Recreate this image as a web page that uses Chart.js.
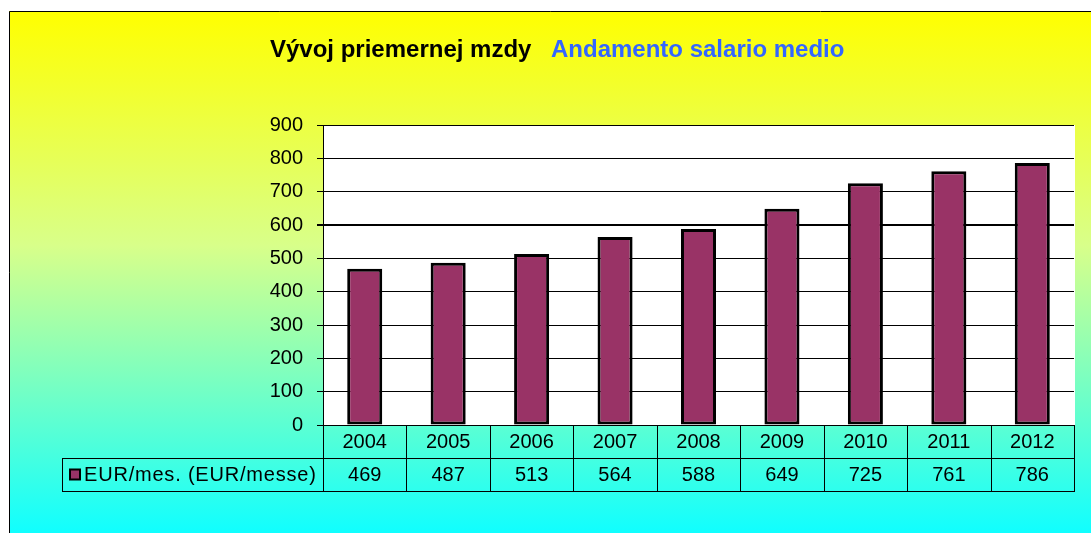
<!DOCTYPE html>
<html>
<head>
<meta charset="utf-8">
<script src="https://cdn.jsdelivr.net/npm/chart.js@4.4.1/dist/chart.umd.min.js"></script>
<style>
    html, body { margin: 0; padding: 0; background: #fff; }
    canvas { display: block; }
</style>
</head>
<body>
<canvas id="wageChart" width="1091" height="533"></canvas>
<script>
// dati del grafico
const years = ['2004', '2005', '2006', '2007', '2008', '2009', '2010', '2011', '2012'];
const wages = [469, 487, 513, 564, 588, 649, 725, 761, 786];
const seriesLabel = 'EUR/mes. (EUR/messe)';
const titleSk = 'Vývoj priemernej mzdy';
const titleIt = 'Andamento salario medio';
const yMin = 0;
const yMax = 900;
const yStep = 100;

const barColor = '#993366';
const fontFamily = '"Liberation Sans", Arial, sans-serif';

// sfondo, cornice e titolo
const backgroundPlugin = {
    id: 'backgroundPlugin',
    beforeDraw(chart) {
        const ctx = chart.ctx;
        const w = chart.width, h = chart.height;
        ctx.save();
        ctx.fillStyle = '#ffffff';
        ctx.fillRect(0, 0, w, h);
        const grad = ctx.createLinearGradient(0, 11, 0, h);
        grad.addColorStop(0, '#ffff00');
        grad.addColorStop(0.45, '#d8ff8a');
        grad.addColorStop(1, '#10ffff');
        ctx.fillStyle = grad;
        ctx.fillRect(9, 11, w - 9, h - 11);
        ctx.strokeStyle = '#000';
        ctx.lineWidth = 1;
        ctx.beginPath();
        ctx.moveTo(9.5, h);
        ctx.lineTo(9.5, 11.5);
        ctx.lineTo(w, 11.5);
        ctx.stroke();

        // area del grafico bianca
        const a = chart.chartArea;
        ctx.fillStyle = '#ffffff';
        ctx.fillRect(a.left, a.top, a.right - a.left + 1, a.bottom - a.top);

        // titolo
        ctx.font = 'bold 24px ' + fontFamily;
        ctx.textBaseline = 'alphabetic';
        ctx.textAlign = 'left';
        ctx.fillStyle = '#000';
        ctx.fillText(titleSk, 270, 57);
        ctx.fillStyle = '#3366ff';
        ctx.fillText(titleIt, 551, 57);
        ctx.restore();
    },
    afterDraw(chart) {
        // tabella dati sotto il grafico
        const ctx = chart.ctx;
        const x = chart.scales.x;
        const a = chart.chartArea;
        const rowH = 33;
        const top = a.bottom;
        const mid = top + rowH;
        const bot = mid + rowH;
        const legendLeft = 62;
        const n = years.length;
        const edges = [];
        for (let i = 0; i <= n; i++) {
            if (i === 0) edges.push(a.left);
            else if (i === n) edges.push(a.right);
            else edges.push((x.getPixelForValue(i - 1) + x.getPixelForValue(i)) / 2);
        }

        ctx.save();
        ctx.strokeStyle = '#000';
        ctx.lineWidth = 1;
        ctx.beginPath();
        // linee orizzontali
        ctx.moveTo(legendLeft, Math.round(mid) + 0.5);
        ctx.lineTo(a.right, Math.round(mid) + 0.5);
        ctx.moveTo(legendLeft, Math.round(bot) + 0.5);
        ctx.lineTo(a.right, Math.round(bot) + 0.5);
        ctx.moveTo(legendLeft + 0.5, Math.round(mid));
        ctx.lineTo(legendLeft + 0.5, Math.round(bot) + 1);
        edges.forEach(e => {
            const ex = Math.round(e) + 0.5;
            ctx.moveTo(ex, top);
            ctx.lineTo(ex, Math.round(bot) + 1);
        });
        ctx.stroke();

        ctx.font = '20px ' + fontFamily;
        ctx.fillStyle = '#000';
        ctx.textAlign = 'center';
        ctx.textBaseline = 'middle';
        years.forEach((y, i) => {
            ctx.fillText(y, x.getPixelForValue(i), top + rowH / 2 + 1);
            ctx.fillText(String(wages[i]), x.getPixelForValue(i), mid + rowH / 2 + 1);
        });

        // legenda
        const sw = 12;
        const sx = legendLeft + 7, sy = mid + rowH / 2 - sw / 2;
        ctx.fillStyle = '#000';
        ctx.fillRect(sx, sy, sw, sw);
        ctx.fillStyle = barColor;
        ctx.fillRect(sx + 2, sy + 2, sw - 4, sw - 4);
        ctx.fillStyle = '#000';
        ctx.textAlign = 'left';
        ctx.letterSpacing = '0.8px';
        ctx.fillText(seriesLabel, sx + sw + 3, mid + rowH / 2 + 1);
        ctx.restore();
    }
};

const canvas = document.getElementById('wageChart');
Chart.defaults.font.family = fontFamily;
Chart.defaults.font.size = 20;
Chart.defaults.color = '#000';

new Chart(canvas, {
    type: 'bar',
    data: {
        labels: years,
        datasets: [{
            label: seriesLabel,
            data: wages,
            backgroundColor: barColor,
            borderColor: '#000',
            borderWidth: 3,
            borderSkipped: false,
            categoryPercentage: 1,
            barPercentage: 0.42
        }]
    },
    options: {
        responsive: false,
        animation: false,
        devicePixelRatio: 1,
        layout: {
            padding: { top: 125, right: 17, bottom: 108, left: 0 }
        },
        plugins: {
            legend: { display: false },
            title: { display: false },
            tooltip: { enabled: false }
        },
        scales: {
            x: {
                display: false
            },
            y: {
                min: yMin,
                max: yMax,
                afterFit(scale) { scale.width = 323; },
                ticks: {
                    stepSize: yStep,
                    padding: 14,
                    color: '#000',
                    font: { size: 20 }
                },
                grid: {
                    color: '#000',
                    lineWidth: c => (c.tick && c.tick.value === 600 ? 2 : 1),
                    tickLength: 6,
                    drawTicks: true
                },
                border: { display: true, color: '#000', width: 1 }
            }
        }
    },
    plugins: [backgroundPlugin]
});
</script>
</body>
</html>
